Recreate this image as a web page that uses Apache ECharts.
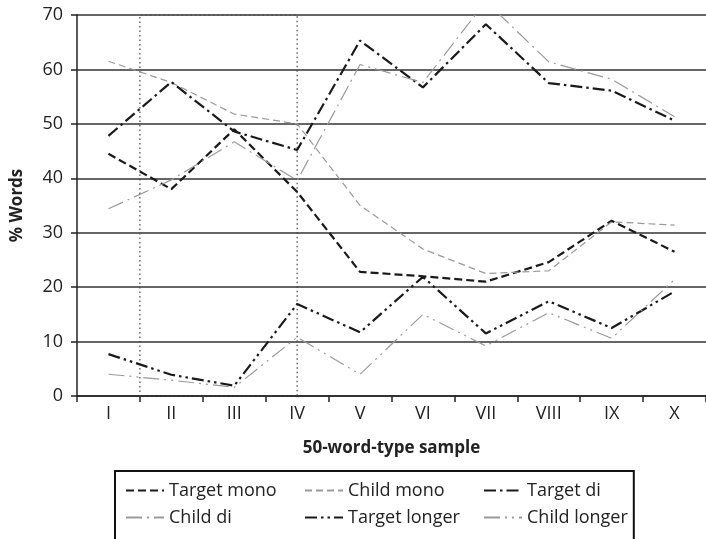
<!DOCTYPE html>
<html>
<head>
<meta charset="utf-8">
<script src="https://cdn.jsdelivr.net/npm/echarts@6/dist/echarts.min.js"></script>
<style>
html,body{margin:0;padding:0;background:#fff;}
#chart{width:706px;height:539px;}
</style>
</head>
<body>
<div id="chart"></div>
<script>
const categories = ['I', 'II', 'III', 'IV', 'V', 'VI', 'VII', 'VIII', 'IX', 'X'];
const targetMono   = [44.5, 38.0, 49.0, 37.5, 22.8, 22.0, 21.0, 24.6, 32.2, 26.5];
const childMono    = [61.5, 57.6, 51.8, 50.0, 35.0, 27.0, 22.5, 23.0, 32.0, 31.4];
const targetDi     = [47.8, 57.7, 48.6, 45.2, 65.3, 56.7, 68.3, 57.5, 56.1, 50.6];
const childDi      = [34.4, 39.7, 46.7, 39.6, 60.9, 57.6, 72.5, 61.4, 58.2, 51.3];
const targetLonger = [7.7, 3.9, 1.9, 16.9, 11.7, 21.9, 11.5, 17.4, 12.5, 19.2];
const childLonger  = [4.0, 2.9, 1.6, 10.8, 4.0, 15.0, 9.2, 15.3, 10.6, 21.4];
const yTicks = [0, 10, 20, 30, 40, 50, 60, 70];
const seriesNames = ['Target mono', 'Child mono', 'Target di', 'Child di', 'Target longer', 'Child longer'];
// dotted highlight box: from the I/II boundary to sample IV (in category-slot units)
const boxFrom = 1, boxTo = 3.5;

const FONT = '"Open Sans", "Noto Sans", sans-serif';
const black = '#1a1a1a', gray = '#9a9a9a';

function mk(name, data, color, width, dash) {
  return {
    name: name, type: 'line', data: data, symbol: 'none', clip: true,
    xAxisIndex: 0, yAxisIndex: 0,
    lineStyle: { color: color, width: width, type: dash },
    itemStyle: { color: color },
    z: 3
  };
}

const chart = echarts.init(document.getElementById('chart'), null, { renderer: 'canvas' });
const lastColText = { width: 100 };
const option = {
  animation: false,
  backgroundColor: '#fff',
  textStyle: { fontFamily: FONT },
  grid: { left: 77, top: 15, width: 636, height: 381, containLabel: false },
  xAxis: [{
    type: 'category', data: categories, boundaryGap: true,
    name: '50-word-type sample', nameLocation: 'middle', nameGap: 44,
    nameTextStyle: { fontFamily: FONT, fontSize: 17, fontWeight: 'bold', color: '#222' },
    axisLine: { show: true, lineStyle: { color: '#222', width: 1.5 } },
    axisTick: { show: true, length: 6, alignWithLabel: false, lineStyle: { color: '#222', width: 1.5 } },
    axisLabel: { fontFamily: FONT, fontSize: 18, color: '#222', margin: 9 },
    splitLine: { show: false }
  }, {
    type: 'value', min: 0, max: 10, show: false, position: 'bottom'
  }],
  yAxis: {
    type: 'value', min: 0, max: 70, interval: 10,
    name: '% Words', nameLocation: 'middle', nameGap: 51, nameRotate: 90,
    nameTextStyle: { fontFamily: FONT, fontSize: 17, fontWeight: 'bold', color: '#222' },
    axisLine: { show: true, lineStyle: { color: '#222', width: 1.5 } },
    axisTick: { show: true, length: 6, inside: false, lineStyle: { color: '#222', width: 1.5 } },
    axisLabel: { fontFamily: FONT, fontSize: 18, color: '#222', margin: 14,
      formatter: function (v) { return yTicks.indexOf(v) >= 0 ? String(v) : ''; } },
    splitLine: { show: true, lineStyle: { color: '#333', width: 1.5 } }
  },
  legend: {
    data: [
      { name: seriesNames[0] }, { name: seriesNames[1] }, { name: seriesNames[2], textStyle: lastColText },
      { name: seriesNames[3] }, { name: seriesNames[4] }, { name: seriesNames[5], textStyle: lastColText }
    ],
    orient: 'horizontal', left: 115, top: 471, width: 535,
    itemWidth: 38, itemHeight: 14, itemGap: 0,
    padding: [6, 6, 10, 10],
    borderColor: '#111', borderWidth: 2, borderRadius: 0,
    itemStyle: { color: 'rgba(0,0,0,0)', borderColor: 'rgba(0,0,0,0)', borderWidth: 0, opacity: 0 },
    textStyle: { fontFamily: FONT, fontSize: 18, color: '#222', width: 135, lineHeight: 27, overflow: 'none' },
    inactiveColor: '#ccc'
  },
  series: [
    mk(seriesNames[0], targetMono, black, 2.2, [8, 4]),
    mk(seriesNames[1], childMono, gray, 1.2, [7, 4]),
    mk(seriesNames[2], targetDi, black, 2.2, [12, 4, 2.5, 4]),
    mk(seriesNames[3], childDi, gray, 1.2, [16, 5, 2, 5]),
    mk(seriesNames[4], targetLonger, black, 2.2, [12, 4, 2.5, 4, 2.5, 4]),
    mk(seriesNames[5], childLonger, gray, 1.2, [16, 5, 2, 5, 2, 5]),
    {
      name: 'box', type: 'line', xAxisIndex: 1, yAxisIndex: 0, data: [[boxFrom, 0]],
      symbol: 'none', silent: true, lineStyle: { opacity: 0 }, z: 2,
      markArea: {
        silent: true,
        itemStyle: { color: 'rgba(0,0,0,0)', borderColor: '#444', borderWidth: 1.2, borderType: [1.5, 3] },
        data: [[{ coord: [boxFrom, 0] }, { coord: [boxTo, 70] }]]
      }
    }
  ]
};
chart.setOption(option);
</script>
</body>
</html>
